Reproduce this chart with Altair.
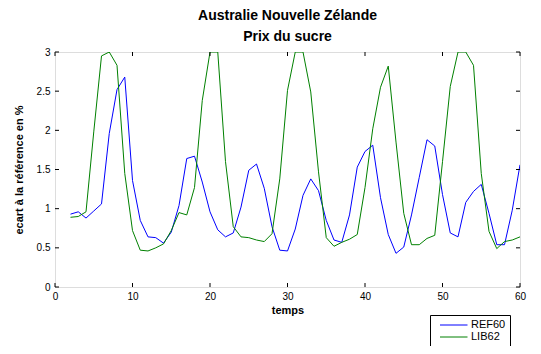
import altair as alt
import pandas as pd

# ---- data ----
t = list(range(2, 61))
ref60 = [0.93, 0.96, 0.88, 0.97, 1.06, 1.96, 2.52, 2.68, 1.36, 0.85,
         0.64, 0.63, 0.56, 0.70, 1.04, 1.64, 1.67, 1.34, 0.96, 0.73,
         0.64, 0.69, 1.02, 1.49, 1.57, 1.26, 0.77, 0.47, 0.46, 0.74,
         1.17, 1.38, 1.23, 0.85, 0.60, 0.57, 0.92, 1.53, 1.73, 1.81,
         1.14, 0.67, 0.43, 0.51, 0.92, 1.40, 1.88, 1.80, 1.18, 0.69,
         0.64, 1.08, 1.22, 1.31, 0.94, 0.54, 0.54, 0.98, 1.56]
lib62 = [0.89, 0.90, 0.96, 1.98, 2.95, 3.00, 2.83, 1.45, 0.72, 0.47,
         0.46, 0.50, 0.55, 0.72, 0.95, 0.92, 1.27, 2.38, 3.00, 3.00,
         1.60, 0.77, 0.64, 0.63, 0.60, 0.58, 0.68, 1.38, 2.51, 3.00,
         3.00, 2.49, 1.47, 0.63, 0.52, 0.57, 0.61, 0.67, 1.27, 2.02,
         2.55, 2.82, 1.85, 0.94, 0.54, 0.54, 0.62, 0.66, 1.60, 2.56,
         3.00, 3.00, 2.83, 1.45, 0.71, 0.49, 0.58, 0.60, 0.64]
series_names = ["REF60", "LIB62"]
series_colors = ["#0000ff", "#008000"]
x_ticks = [0, 10, 20, 30, 40, 50, 60]
y_ticks = [0, 0.5, 1, 1.5, 2, 2.5, 3]

W, H = 465, 235
FONT = "Liberation Sans"

df = pd.DataFrame({
    "temps": t * 2,
    "val": ref60 + lib62,
    "serie": ["REF60"] * len(t) + ["LIB62"] * len(t),
})
xt = pd.DataFrame({"v": x_ticks})
yt = pd.DataFrame({"v": y_ticks})

xscale = alt.Scale(domain=[0, 60], nice=False, zero=False)
yscale = alt.Scale(domain=[0, 3], nice=False, zero=False)

x_axis = alt.Axis(values=x_ticks, tickSize=0, domain=False, grid=False,
                  labelFlush=False, labelOverlap=False, labelPadding=4,
                  title="temps", titlePadding=3, titleFontWeight="bold")
y_axis = alt.Axis(values=y_ticks, tickSize=0, domain=False, grid=False,
                  format="~g", labelFlush=False, labelOverlap=False,
                  labelPadding=5, title="ecart à la référence en %",
                  titlePadding=12, titleFontWeight="bold")

lines = alt.Chart(df).mark_line(strokeWidth=1, clip=True).encode(
    x=alt.X("temps:Q", scale=xscale, axis=x_axis),
    y=alt.Y("val:Q", scale=yscale, axis=y_axis),
    color=alt.Color("serie:N",
                    scale=alt.Scale(domain=series_names, range=series_colors),
                    sort=series_names,
                    legend=alt.Legend(title=None, orient="none", legendX=375,
                                      legendY=263, symbolType="M0,0H5",
                                      symbolSize=121, symbolStrokeWidth=1,
                                      strokeColor="black", fillColor="white",
                                      padding=4, rowPadding=1, labelFontSize=11,
                                      labelFont=FONT, labelColor="black",
                                      labelOffset=25, cornerRadius=0)),
)

tb = alt.Chart(xt).mark_rule(color="black", strokeWidth=1).encode(
    x=alt.X("v:Q", scale=xscale, axis=x_axis), y=alt.value(H), y2=alt.value(H - 4))
tt = alt.Chart(xt).mark_rule(color="black", strokeWidth=1).encode(
    x=alt.X("v:Q", scale=xscale, axis=x_axis), y=alt.value(0), y2=alt.value(4))
tl = alt.Chart(yt).mark_rule(color="black", strokeWidth=1).encode(
    y=alt.Y("v:Q", scale=yscale, axis=y_axis), x=alt.value(0), x2=alt.value(4))
tr = alt.Chart(yt).mark_rule(color="black", strokeWidth=1).encode(
    y=alt.Y("v:Q", scale=yscale, axis=y_axis), x=alt.value(W), x2=alt.value(W - 4))

chart = alt.layer(lines, tb, tt, tl, tr).properties(
    width=W, height=H,
    title=alt.TitleParams(["Australie Nouvelle Zélande", "Prix du sucre"],
                          fontSize=14, fontWeight="bold", font=FONT,
                          color="black", anchor="middle", lineHeight=21,
                          offset=3),
    autosize=alt.AutoSizeParams(type="none"),
    padding={"left": 47, "top": 44, "right": 13, "bottom": 59},
).configure_view(stroke="black", strokeWidth=1).configure_axis(
    labelFont=FONT, titleFont=FONT, labelFontSize=11, titleFontSize=11,
    labelColor="black", titleColor="black",
).configure(background="white")

chart.save("out.html", embed_options={"renderer": "svg", "actions": False})
